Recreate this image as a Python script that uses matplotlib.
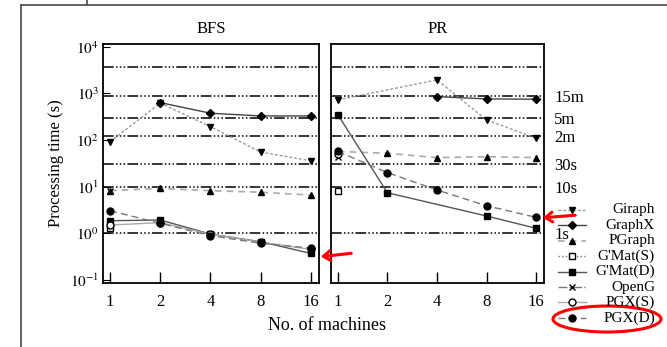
import numpy as np
import matplotlib.pyplot as plt
from matplotlib.patches import Ellipse
from matplotlib.lines import Line2D

plt.rcParams['font.family'] = ['Liberation Serif', 'DejaVu Serif']
plt.rcParams['mathtext.fontset'] = 'stix'

machines = [1, 2, 4, 8, 16]

# BFS processing time (s)
bfs_giraph_x = [1, 2, 4, 8, 16]
bfs_giraph = [92, 620, 194, 55, 36]
bfs_graphx_x = [2, 4, 8, 16]
bfs_graphx = [635, 376, 329, 329]
bfs_pgraph_x = [1, 2, 4, 8, 16]
bfs_pgraph = [8.2, 9.2, 8.2, 7.6, 6.6]
bfs_gmats_x = [1]
bfs_gmats = [1.28]
bfs_gmatd_x = [1, 2, 4, 8, 16]
bfs_gmatd = [1.86, 1.93, 0.96, 0.66, 0.37]
bfs_openg_x = [1]
bfs_openg = [8.0]
bfs_pgxs_x = [1, 2, 4, 8, 16]
bfs_pgxs = [1.5, 1.7, 0.95, 0.65, 0.45]
bfs_pgxd_x = [1, 2, 4, 8, 16]
bfs_pgxd = [3.05, 1.64, 0.89, 0.61, 0.48]

# PR processing time (s)
pr_giraph_x = [1, 4, 8, 16]
pr_giraph = [728, 1950, 270, 109]
pr_graphx_x = [4, 8, 16]
pr_graphx = [853, 763, 750]
pr_pgraph_x = [1, 2, 4, 8, 16]
pr_pgraph = [57, 52, 42, 44, 42]
pr_gmats_x = [1]
pr_gmats = [8.2]
pr_gmatd_x = [1, 2, 8, 16]
pr_gmatd = [347, 7.4, 2.35, 1.28]
pr_openg_x = [1]
pr_openg = [44]
pr_pgxs_x = [1]
pr_pgxs = [50]
pr_pgxd_x = [1, 2, 4, 8, 16]
pr_pgxd = [57, 20, 8.5, 3.9, 2.2]

grid_vals = [1, 10, 30, 120, 300, 900, 3600]
right_labels = ['1s', '10s', '30s', '2m', '5m', '15m']
right_vals = [1, 10, 30, 120, 300, 900]

styles = {
    'Giraph':   dict(ls=(0, (2, 1.5)), color='#999999', marker='v', mfc='black', lw=1.0),
    'GraphX':   dict(ls='-', color='#444444', marker='D', mfc='black', lw=1.0, ms=4),
    'PGraph':   dict(ls=(0, (4, 3)), color='#aaaaaa', marker='^', mfc='black', lw=1.2),
    "G'Mat(S)": dict(ls=':', color='#777777', marker='s', mfc='white', lw=1.0),
    "G'Mat(D)": dict(ls='-', color='#555555', marker='s', mfc='black', lw=1.0),
    'OpenG':    dict(ls='-.', color='#777777', marker='x', mfc='black', lw=1.0),
    'PGX(S)':   dict(ls='-', color='#aaaaaa', marker='o', mfc='white', lw=1.0),
    'PGX(D)':   dict(ls=(0, (5, 3)), color='#777777', marker='o', mfc='black', lw=1.0),
}

bfs = {
    'Giraph': (bfs_giraph_x, bfs_giraph),
    'GraphX': (bfs_graphx_x, bfs_graphx),
    'PGraph': (bfs_pgraph_x, bfs_pgraph),
    "G'Mat(S)": (bfs_gmats_x, bfs_gmats),
    "G'Mat(D)": (bfs_gmatd_x, bfs_gmatd),
    'OpenG': (bfs_openg_x, bfs_openg),
    'PGX(S)': (bfs_pgxs_x, bfs_pgxs),
    'PGX(D)': (bfs_pgxd_x, bfs_pgxd),
}
pr = {
    'Giraph': (pr_giraph_x, pr_giraph),
    'GraphX': (pr_graphx_x, pr_graphx),
    'PGraph': (pr_pgraph_x, pr_pgraph),
    "G'Mat(S)": (pr_gmats_x, pr_gmats),
    "G'Mat(D)": (pr_gmatd_x, pr_gmatd),
    'OpenG': (pr_openg_x, pr_openg),
    'PGX(S)': (pr_pgxs_x, pr_pgxs),
    'PGX(D)': (pr_pgxd_x, pr_pgxd),
}

fig = plt.figure(figsize=(6.67, 3.47), dpi=100)
W, H = 667, 347
ax1 = fig.add_axes([103 / W, 1 - 283 / H, 216 / W, 239 / H])
ax2 = fig.add_axes([331 / W, 1 - 283 / H, 213 / W, 239 / H])

grid_ls = (0, (7, 1.5, 1, 1.5, 1, 1.5, 1, 1.5))
for ax, data, title in [(ax1, bfs, 'BFS'), (ax2, pr, 'PR')]:
    ax.set_yscale('log')
    ax.set_ylim(10 ** -1.066, 10 ** 4.06)
    ax.set_xlim(-0.14, 4.16)
    for g in grid_vals:
        ax.axhline(g, color='black', lw=1.1, ls=grid_ls, zorder=1)
    for name, (xs, ys) in data.items():
        pos = [machines.index(x) for x in xs]
        st = dict(styles[name])
        ax.plot(pos, ys, mec='black', ms=st.pop('ms', 5), zorder=3, **st)
    ax.set_xticks(range(len(machines)))
    ax.set_xticklabels([str(m) for m in machines], fontsize=12)
    ax.tick_params(axis='x', direction='in', length=8, width=1, pad=8)
    ax.minorticks_off()
    ax.set_title(title, fontsize=12, pad=8)
    for s in ax.spines.values():
        s.set_linewidth(1.3)

ax1.set_yticks([10.0 ** k for k in range(-1, 5)])
ax1.set_yticklabels([f'$10^{{{k}}}$' for k in range(-1, 5)], fontsize=11)
ax1.tick_params(axis='y', direction='in', length=5, pad=3)
ax1.set_ylabel('Processing time (s)', fontsize=12, labelpad=4)

ax2.set_yticks(right_vals)
ax2.set_yticklabels(right_labels, fontsize=12)
ax2.tick_params(axis='y', left=False, right=False, labelleft=False, labelright=True, pad=4)

fig.text(327 / W, 1 - 325 / H, 'No. of machines', ha='center', va='center', fontsize=13)

# legend, drawn by hand so the labels sit right-aligned
for i, name in enumerate(styles):
    yy = 1 - (210 + i * 15.4) / H
    st = dict(styles[name])
    ms = st.pop('ms', 5)
    marker = st.pop('marker')
    mfc = st.pop('mfc')
    fig.add_artist(Line2D([558 / W, 586 / W], [yy, yy], **st))
    fig.add_artist(Line2D([572 / W], [yy], ls='none', marker=marker, mfc=mfc,
                          mec='black', ms=ms))
    fig.text(655 / W, yy, name, ha='right', va='center', fontsize=11)

# page frame
fig.add_artist(Line2D([21 / W, 21 / W], [0, 1 - 5 / H], color='#555555', lw=1.3))
fig.add_artist(Line2D([21 / W, 1], [1 - 5 / H, 1 - 5 / H], color='#555555', lw=1.3))
fig.add_artist(Line2D([87 / W, 87 / W], [1 - 5 / H, 1], color='#555555', lw=1.3))

# red annotations
fig.add_artist(Ellipse((607 / W, 1 - 319 / H), 108 / W, 26 / H, fill=False, ec='red', lw=2.2))
ax2.annotate('', xy=(540 / W, 1 - 218 / H), xytext=(578 / W, 1 - 215 / H),
             xycoords='figure fraction', textcoords='figure fraction',
             arrowprops=dict(arrowstyle='->,head_length=0.5,head_width=0.35', color='red', lw=2.2),
             annotation_clip=False)
ax2.annotate('', xy=(318 / W, 1 - 257 / H), xytext=(354 / W, 1 - 253 / H),
             xycoords='figure fraction', textcoords='figure fraction',
             arrowprops=dict(arrowstyle='->,head_length=0.5,head_width=0.35', color='red', lw=2.2),
             annotation_clip=False)

fig.savefig('out.png', dpi=100)
